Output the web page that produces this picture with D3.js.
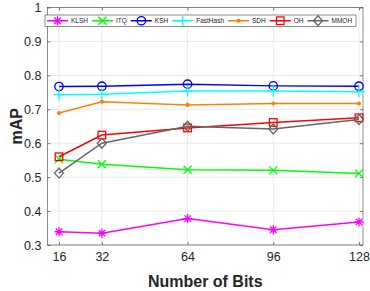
<!DOCTYPE html>
<html>
<head>
<meta charset="utf-8">
<script src="https://cdn.jsdelivr.net/npm/d3@7"></script>
<style>
  body { margin: 0; background: #fff; }
  text { font-family: "Liberation Sans", Arial, sans-serif; fill: #262626; }
</style>
</head>
<body>
<svg id="chart" width="370" height="291"></svg>
<script>
// bits on the x axis
var bits = [16, 32, 64, 96, 128]
var yTicks = [0.3, 0.4, 0.5, 0.6, 0.7, 0.8, 0.9, 1]

var methods = ["KLSH", "ITQ", "KSH", "FastHash", "SDH", "OH", "MMOH"]
var klsh     = [0.339, 0.335, 0.378, 0.345, 0.368]
var itq      = [0.553, 0.538, 0.522, 0.520, 0.511]
var ksh      = [0.767, 0.768, 0.774, 0.769, 0.768]
var fasthash = [0.743, 0.744, 0.754, 0.754, 0.752]
var sdh      = [0.689, 0.722, 0.713, 0.717, 0.717]
var oh       = [0.560, 0.624, 0.645, 0.661, 0.675]
var mmoh     = [0.512, 0.600, 0.650, 0.642, 0.670]

var colors  = ["#ff00ff", "#00ff00", "#0000ff", "#00ffff", "#ff8000", "#ff0000", "#666666"]
var markers = ["star", "cross", "circle", "plus", "dot", "square", "diamond"]
var allVals = [klsh, itq, ksh, fasthash, sdh, oh, mmoh]

function drawChart() {
var svg = d3.select("#chart")
var pLeft = 47.5, pRight = 363, pTop = 7.5, pBottom = 245

var x = d3.scaleLinear().domain([11.7, 129.5]).range([pLeft, pRight])
var y = d3.scaleLinear().domain([0.3, 1]).range([pBottom, pTop])

// grid
svg.append("g").selectAll("line").data(bits).enter().append("line")
  .attr("x1", d => x(d)).attr("x2", d => x(d))
  .attr("y1", pTop).attr("y2", pBottom)
  .style("stroke", "#e3e3e3").style("stroke-width", 0.8)
svg.append("g").selectAll("line").data(yTicks).enter().append("line")
  .attr("x1", pLeft).attr("x2", pRight)
  .attr("y1", d => y(d)).attr("y2", d => y(d))
  .style("stroke", "#e3e3e3").style("stroke-width", 0.8)

// axes (ticks inside, box on)
function styleAxis(g) {
  g.select(".domain").remove()
  g.selectAll(".tick line").style("stroke", "#262626").style("stroke-width", 0.6)
  g.selectAll(".tick text").style("font-size", "12.5px").style("fill", "#262626")
    .style("font-family", "Liberation Sans, Arial, sans-serif")
}
svg.append("g").attr("transform", "translate(0," + pBottom + ")")
  .call(d3.axisBottom(x).tickValues(bits).tickSize(-3).tickPadding(7).tickFormat(d3.format("d")))
  .call(styleAxis)
svg.append("g").attr("transform", "translate(0," + pTop + ")")
  .call(d3.axisTop(x).tickValues(bits).tickSize(-3).tickFormat(""))
  .call(styleAxis)
svg.append("g").attr("transform", "translate(" + pLeft + ",0)")
  .call(d3.axisLeft(y).tickValues(yTicks).tickSize(-3).tickPadding(6).tickFormat(d => d === 1 ? "1" : d3.format(".1f")(d)))
  .call(styleAxis)
svg.append("g").attr("transform", "translate(" + pRight + ",0)")
  .call(d3.axisRight(y).tickValues(yTicks).tickSize(-3).tickFormat(""))
  .call(styleAxis)

svg.append("rect").attr("x", pLeft).attr("y", pTop)
  .attr("width", pRight - pLeft).attr("height", pBottom - pTop)
  .style("fill", "none").style("stroke", "#404040").style("stroke-width", 0.6)

// marker drawing
function drawMarker(g, type, color, cx, cy) {
  var s = g.append("g").attr("transform", "translate(" + cx + "," + cy + ")")
    .style("stroke", color).style("stroke-width", 1.3).style("fill", "none")
  if (type == "star") {
    var r = 4.5
    s.append("path").attr("d", "M0," + -r + "V" + r + "M" + -r + ",0H" + r +
      "M-3.2,-3.2L3.2,3.2M-3.2,3.2L3.2,-3.2")
  } else if (type == "cross") {
    s.append("path").attr("d", "M-4,-4L4,4M-4,4L4,-4")
  } else if (type == "circle") {
    s.append("circle").attr("r", 4.2)
  } else if (type == "plus") {
    s.append("path").attr("d", "M0,-5.5V5.5M-5.5,0H5.5")
  } else if (type == "dot") {
    s.append("circle").attr("r", 1.4).style("fill", color)
  } else if (type == "square") {
    s.append("rect").attr("x", -3.8).attr("y", -3.8).attr("width", 7.6).attr("height", 7.6)
  } else if (type == "diamond") {
    s.append("path").attr("d", "M0,-5L4.5,0L0,5L-4.5,0Z")
  }
}

var line = d3.line().x((d, i) => x(bits[i])).y(d => y(d))

allVals.forEach(function(vals, k) {
  svg.append("path").datum(vals).attr("d", line)
    .style("fill", "none").style("stroke", colors[k]).style("stroke-width", 1.5)
  var g = svg.append("g")
  vals.forEach(function(v, i) { drawMarker(g, markers[k], colors[k], x(bits[i]), y(v)) })
})

// legend
var leg = svg.append("g")
leg.append("rect").attr("x", 45).attr("y", 15).attr("width", 311).attr("height", 11.5)
  .style("fill", "#fff").style("stroke", "#404040").style("stroke-width", 0.6)
var lx = 47
methods.forEach(function(m, k) {
  leg.append("line").attr("x1", lx).attr("x2", lx + 21).attr("y1", 20.75).attr("y2", 20.75)
    .style("stroke", colors[k]).style("stroke-width", 1.5)
  drawMarker(leg, markers[k], colors[k], lx + 10.5, 20.75)
  var t = leg.append("text").attr("x", lx + 24).attr("y", 23)
    .style("font-size", "6.5px").text(m)
  lx = lx + 24 + t.node().getComputedTextLength() + 4
})

// axis titles
svg.append("text").attr("x", (pLeft + pRight) / 2).attr("y", 287)
  .attr("text-anchor", "middle").style("font-size", "16px").style("font-weight", "bold")
  .text("Number of Bits")
svg.append("text").attr("transform", "translate(22," + (pTop + pBottom) / 2 + ") rotate(-90)")
  .attr("text-anchor", "middle").style("font-size", "16px").style("font-weight", "bold")
  .text("mAP")
}
drawChart()
</script>
</body>
</html>
